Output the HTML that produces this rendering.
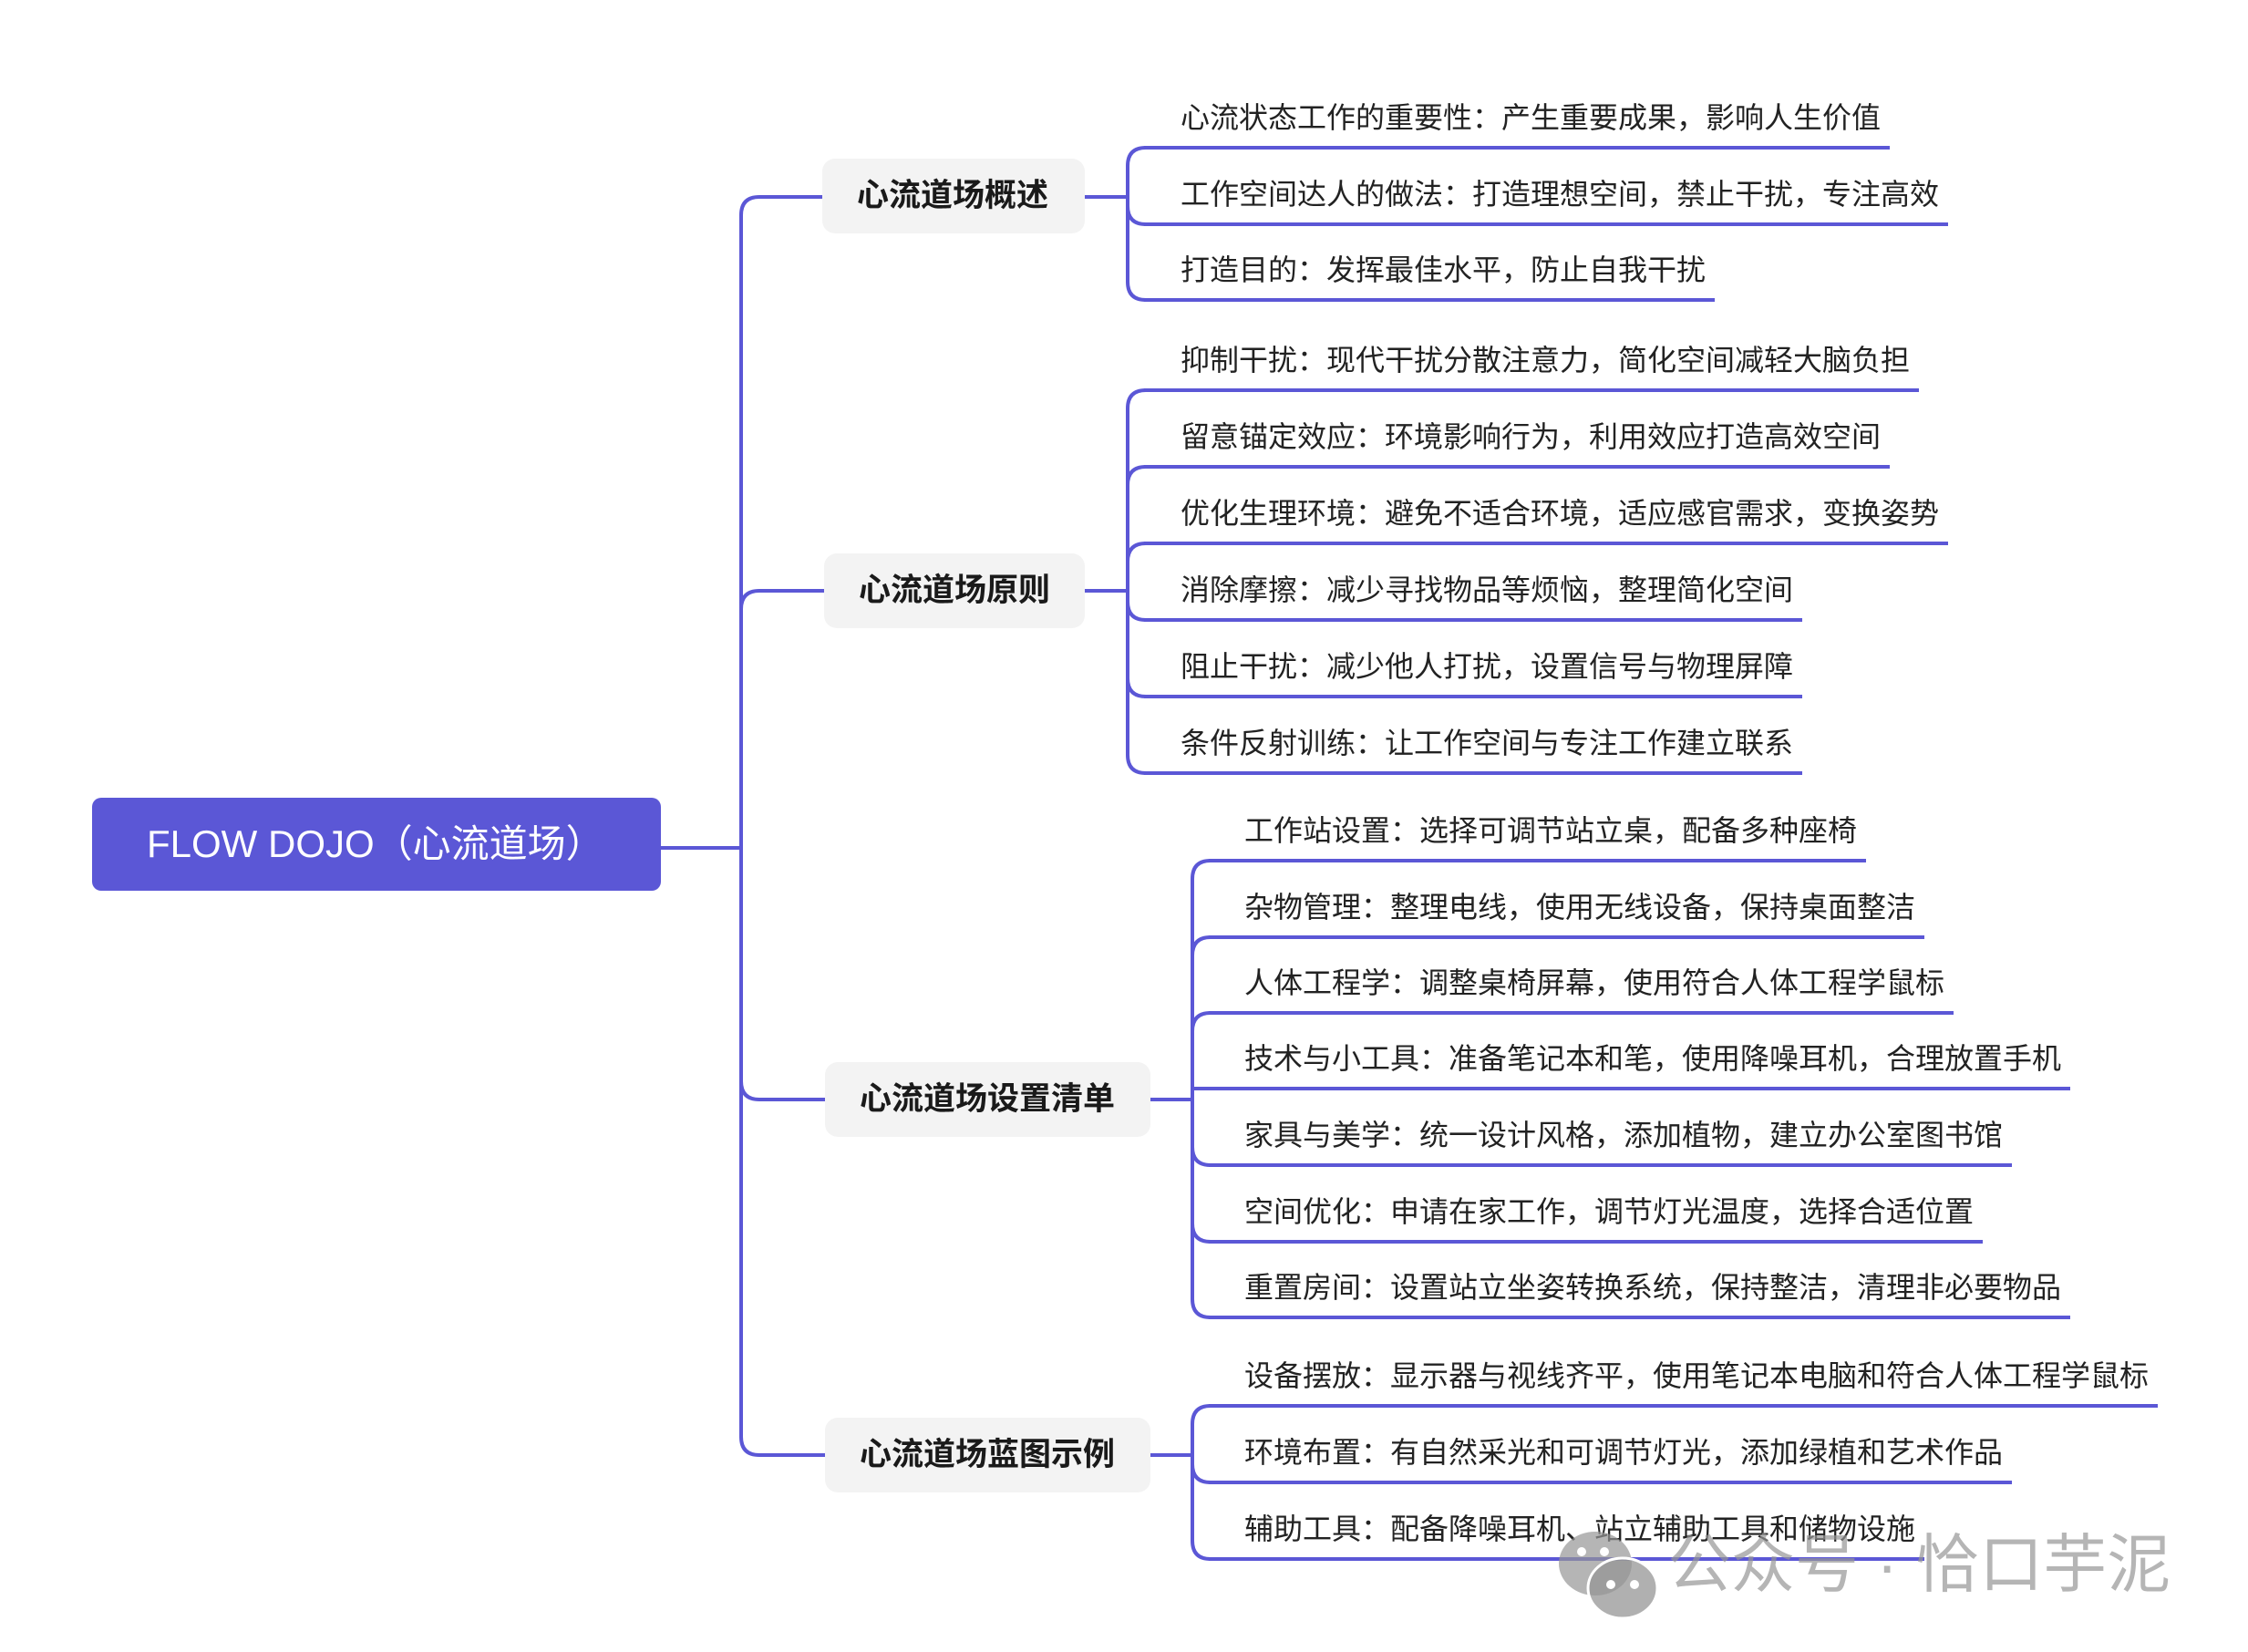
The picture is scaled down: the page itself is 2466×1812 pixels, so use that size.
<!DOCTYPE html>
<html><head><meta charset="utf-8"><style>
body{margin:0;width:2466px;height:1812px;background:#fff;position:relative;overflow:hidden;font-family:"Liberation Sans","Noto Sans CJK SC",sans-serif;}
.leaf{position:absolute;height:64px;border-bottom:4px solid #5b57d6;line-height:66px;font-size:32px;color:#222;white-space:nowrap;padding-right:10px;}
.node{position:absolute;background:#f3f3f3;border-radius:14px;height:82px;line-height:82px;font-size:35px;font-weight:bold;color:#1a1a1a;box-sizing:border-box;padding-left:38px;white-space:nowrap;}
.root{position:absolute;left:101px;top:875px;width:624px;height:102px;background:#5b57d6;border-radius:10px;color:#fff;font-size:42px;line-height:102px;box-sizing:border-box;padding-left:60px;white-space:nowrap;}
.wm{position:absolute;left:1829px;top:1670px;font-size:70px;line-height:92px;color:rgba(150,150,150,0.7);white-space:nowrap;}
</style></head><body>
<svg width="2466" height="1812" style="position:absolute;left:0;top:0" fill="none" stroke="#5b57d6" stroke-width="4">
<path d="M725 930 H813"/>
<path d="M813 930 V236 Q813 216 833 216 H902"/>
<path d="M813 930 V668 Q813 648 833 648 H904"/>
<path d="M813 930 V1186 Q813 1206 833 1206 H905"/>
<path d="M813 930 V1576 Q813 1596 833 1596 H905"/>
<path d="M1190 216 H1237"/>
<path d="M1237 216 V182 Q1237 162 1257 162"/>
<path d="M1237 216 V226 Q1237 246 1257 246"/>
<path d="M1237 216 V309 Q1237 329 1257 329"/>
<path d="M1190 648 H1237"/>
<path d="M1237 648 V448 Q1237 428 1257 428"/>
<path d="M1237 648 V532 Q1237 512 1257 512"/>
<path d="M1237 648 V616 Q1237 596 1257 596"/>
<path d="M1237 648 V660 Q1237 680 1257 680"/>
<path d="M1237 648 V744 Q1237 764 1257 764"/>
<path d="M1237 648 V828 Q1237 848 1257 848"/>
<path d="M1262 1206 H1308"/>
<path d="M1308 1206 V964 Q1308 944 1328 944"/>
<path d="M1308 1206 V1048 Q1308 1028 1328 1028"/>
<path d="M1308 1206 V1131 Q1308 1111 1328 1111"/>
<path d="M1308 1206 V1194 Q1308 1194 1328 1194"/>
<path d="M1308 1206 V1258 Q1308 1278 1328 1278"/>
<path d="M1308 1206 V1342 Q1308 1362 1328 1362"/>
<path d="M1308 1206 V1425 Q1308 1445 1328 1445"/>
<path d="M1262 1596 H1308"/>
<path d="M1308 1596 V1562 Q1308 1542 1328 1542"/>
<path d="M1308 1596 V1606 Q1308 1626 1328 1626"/>
<path d="M1308 1596 V1690 Q1308 1710 1328 1710"/>
</svg>
<div class="root">FLOW DOJO（心流道场）</div>
<div class="node" style="left:902px;top:174px;width:288px">心流道场概述</div>
<div class="node" style="left:904px;top:607px;width:286px">心流道场原则</div>
<div class="node" style="left:905px;top:1165px;width:357px">心流道场设置清单</div>
<div class="node" style="left:905px;top:1555px;width:357px">心流道场蓝图示例</div>

<div class="leaf" style="left:1255px;top:96px;padding-left:40px">心流状态工作的重要性：产生重要成果，影响人生价值</div>
<div class="leaf" style="left:1255px;top:180px;padding-left:40px">工作空间达人的做法：打造理想空间，禁止干扰，专注高效</div>
<div class="leaf" style="left:1255px;top:263px;padding-left:40px">打造目的：发挥最佳水平，防止自我干扰</div>

<div class="leaf" style="left:1255px;top:362px;padding-left:40px">抑制干扰：现代干扰分散注意力，简化空间减轻大脑负担</div>
<div class="leaf" style="left:1255px;top:446px;padding-left:40px">留意锚定效应：环境影响行为，利用效应打造高效空间</div>
<div class="leaf" style="left:1255px;top:530px;padding-left:40px">优化生理环境：避免不适合环境，适应感官需求，变换姿势</div>
<div class="leaf" style="left:1255px;top:614px;padding-left:40px">消除摩擦：减少寻找物品等烦恼，整理简化空间</div>
<div class="leaf" style="left:1255px;top:698px;padding-left:40px">阻止干扰：减少他人打扰，设置信号与物理屏障</div>
<div class="leaf" style="left:1255px;top:782px;padding-left:40px">条件反射训练：让工作空间与专注工作建立联系</div>

<div class="leaf" style="left:1326px;top:878px;padding-left:39px">工作站设置：选择可调节站立桌，配备多种座椅</div>
<div class="leaf" style="left:1326px;top:962px;padding-left:39px">杂物管理：整理电线，使用无线设备，保持桌面整洁</div>
<div class="leaf" style="left:1326px;top:1045px;padding-left:39px">人体工程学：调整桌椅屏幕，使用符合人体工程学鼠标</div>
<div class="leaf" style="left:1326px;top:1128px;padding-left:39px">技术与小工具：准备笔记本和笔，使用降噪耳机，合理放置手机</div>
<div class="leaf" style="left:1326px;top:1212px;padding-left:39px">家具与美学：统一设计风格，添加植物，建立办公室图书馆</div>
<div class="leaf" style="left:1326px;top:1296px;padding-left:39px">空间优化：申请在家工作，调节灯光温度，选择合适位置</div>
<div class="leaf" style="left:1326px;top:1379px;padding-left:39px">重置房间：设置站立坐姿转换系统，保持整洁，清理非必要物品</div>

<div class="leaf" style="left:1326px;top:1476px;padding-left:39px">设备摆放：显示器与视线齐平，使用笔记本电脑和符合人体工程学鼠标</div>
<div class="leaf" style="left:1326px;top:1560px;padding-left:39px">环境布置：有自然采光和可调节灯光，添加绿植和艺术作品</div>
<div class="leaf" style="left:1326px;top:1644px;padding-left:39px">辅助工具：配备降噪耳机、站立辅助工具和储物设施</div>

<svg width="120" height="120" style="position:absolute;left:1705px;top:1670px">
<ellipse cx="45" cy="45" rx="40" ry="35" fill="rgba(150,150,150,0.7)"/>
<ellipse cx="75" cy="72" rx="38" ry="33" fill="rgba(150,150,150,0.75)" stroke="#fff" stroke-width="3"/>
<circle cx="62" cy="68" r="5" fill="#fff"/><circle cx="88" cy="68" r="5" fill="#fff"/>
<circle cx="30" cy="32" r="5" fill="#fff"/><circle cx="55" cy="32" r="5" fill="#fff"/>
</svg>
<div class="wm">公众号 · 恰口芋泥</div>
</body></html>
